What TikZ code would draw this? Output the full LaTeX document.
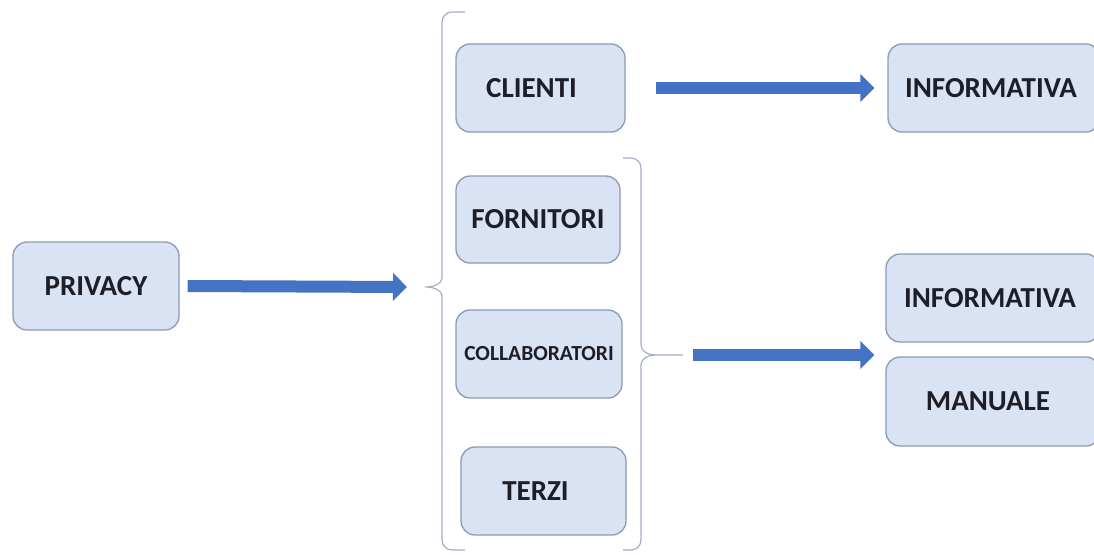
\documentclass[tikz,border=0pt]{standalone}
\usepackage{fontspec}
\setmainfont{Carlito}
\usetikzlibrary{arrows.meta}
\definecolor{boxfill}{HTML}{DAE3F3}
\definecolor{boxdraw}{HTML}{8C9AB2}
\definecolor{arrblue}{HTML}{4472C4}
\definecolor{bracecol}{HTML}{A3AFC6}
\definecolor{txt}{HTML}{1E1E28}
\begin{document}
\begin{tikzpicture}[x=1pt,y=-1pt,
  box/.style={draw=boxdraw, line width=1.3pt, fill=boxfill, rounded corners=14pt,
    inner sep=0pt, text=txt, font=\fontsize{29}{32}\selectfont\bfseries},
  arr/.style={arrblue, line width=12pt, -{Triangle[length=14pt,width=27pt]}},
  brace/.style={bracecol, line width=1.2pt}]
\useasboundingbox (0,0) rectangle (1094,554);
\clip (0,0) rectangle (1094,554);
\fill[white] (0,0) rectangle (1094,554);
% boxes
\node[box, minimum width=166pt, minimum height=88pt] (privacy) at (96,286) {PRIVACY};
\node[box, minimum width=169pt, minimum height=88pt] (clienti) at (540.5,88) {\hspace*{-18pt}CLIENTI};
\node[box, minimum width=164pt, minimum height=87pt] (fornitori) at (538,219.5) {FORNITORI};
\node[box, minimum width=166pt, minimum height=88pt, font=\fontsize{21.5}{24}\selectfont\bfseries] (collab) at (539,354) {COLLABORATORI};
\node[box, minimum width=165pt, minimum height=88pt] (terzi) at (543.5,491) {\hspace*{-16pt}TERZI};
\node[box, minimum width=212pt, minimum height=88pt] (info1) at (994,88) {\hspace*{-6pt}INFORMATIVA};
\node[box, minimum width=214pt, minimum height=88pt] (info2) at (993,298) {\hspace*{-6pt}INFORMATIVA};
\node[box, minimum width=214pt, minimum height=89pt] (manuale) at (993,401.5) {\hspace*{-10pt}MANUALE};
% braces
\coordinate (lbtip) at (425,287);
\coordinate (rbtip) at (683,355);
\draw[brace] (465,12) -- (452,12) to[out=180,in=90] (442,22) -- (442,277)
  to[out=-90,in=0] (lbtip) to[out=0,in=90] (442,297) -- (442,540)
  to[out=-90,in=180] (452,550) -- (465,550);
\draw[brace] (623,158) -- (631,158) to[out=0,in=90] (641,168) -- (641,345)
  to[out=-90,in=180] (655,355) -- (rbtip);
\draw[brace] (655,355) to[out=180,in=90] (641,365) -- (641,540)
  to[out=-90,in=0] (631,550) -- (623,550);
% arrows
\path (info2.west |- rbtip) ++(-11,0) coordinate (a3end);
\draw[arr] ([xshift=8pt]privacy.east) -- ([xshift=-18pt]lbtip);
\draw[arr] ([xshift=30pt]clienti.east) -- ([xshift=-13pt]info1.west);
\draw[arr] ([xshift=10pt]rbtip) -- (a3end);
\end{tikzpicture}
\end{document}
